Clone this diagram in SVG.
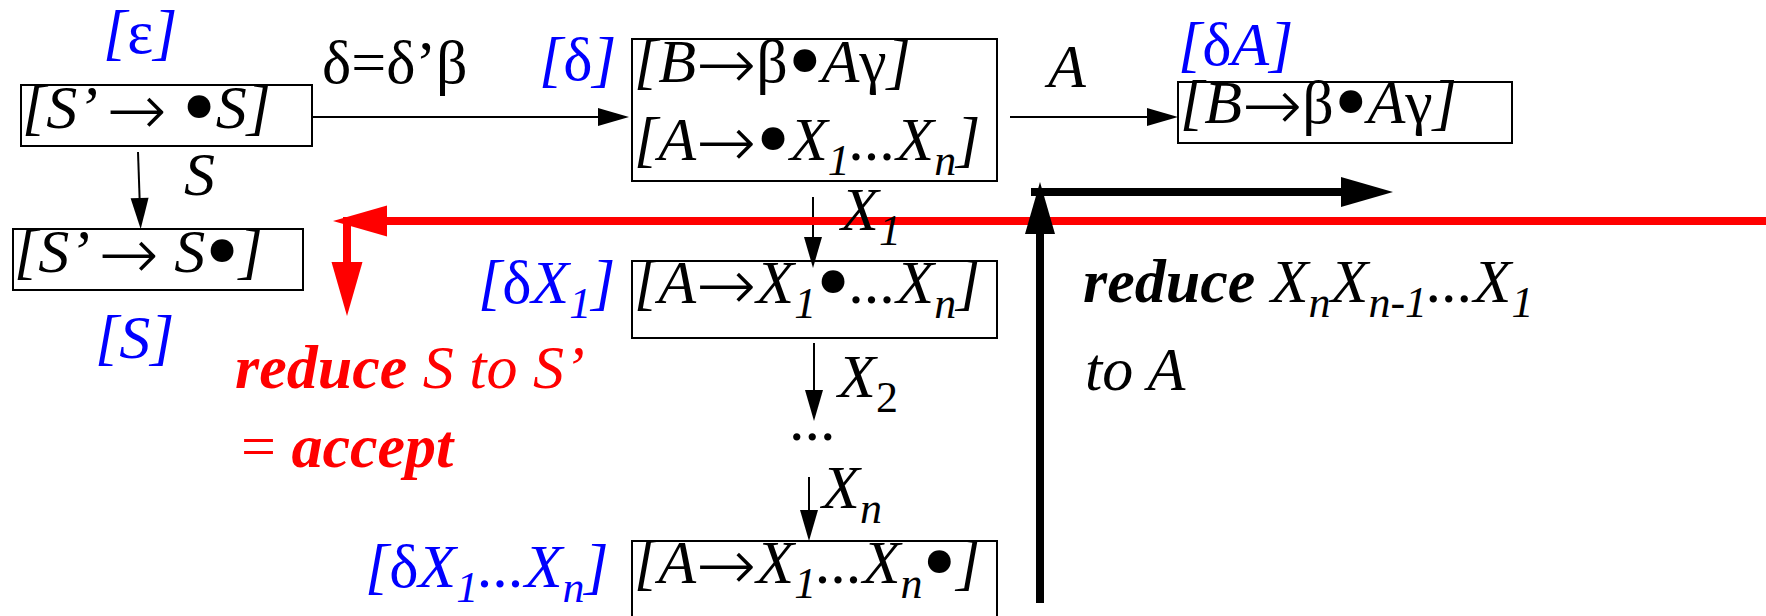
<svg xmlns="http://www.w3.org/2000/svg" width="1766" height="616" viewBox="0 0 1766 616">
<style>
.t{font-family:"Liberation Serif","Times New Roman",serif;font-size:62px;font-style:italic;fill:#000}
.blue{fill:#0000ff}
.red{fill:#ff0000}
.up{font-style:normal}
.bd{font-weight:bold}
.sub{font-size:44px}
.bul{font-size:96px;font-style:normal}
.ar{font-family:"DejaVu Sans",sans-serif;font-size:72px;font-style:normal;font-weight:200}
.box{fill:none;stroke:#000;stroke-width:2}
.thin{fill:none;stroke:#000;stroke-width:2}
.thickr{fill:none;stroke:#ff0000;stroke-width:8}
.thickb{fill:none;stroke:#000;stroke-width:8}
</style>
<defs>
<marker id="ms" markerUnits="userSpaceOnUse" viewBox="0 -10 31 20" markerWidth="31" markerHeight="20" refX="0" refY="0" orient="auto" overflow="visible"><path d="M0,-9 L31,0 L0,9 z" fill="#000"/></marker>
<marker id="mr" markerUnits="userSpaceOnUse" viewBox="0 -16 54 32" markerWidth="54" markerHeight="32" refX="0" refY="0" orient="auto" overflow="visible"><path d="M0,-15.5 L54,0 L0,15.5 z" fill="#ff0000"/></marker>
<marker id="mb" markerUnits="userSpaceOnUse" viewBox="0 -16 52 32" markerWidth="52" markerHeight="32" refX="0" refY="0" orient="auto" overflow="visible"><path d="M0,-15 L52,0 L0,15 z" fill="#000"/></marker>
</defs>
<rect width="1766" height="616" fill="#fff"/>

<g id="connectors">
<path class="thin" d="M312,117 H598" marker-end="url(#ms)"/>
<path class="thin" d="M138,152 L139.6,198" marker-end="url(#ms)"/>
<path class="thin" d="M1010,117 H1147" marker-end="url(#ms)"/>
<path class="thin" d="M813,197 V237" marker-end="url(#ms)"/>
<path class="thin" d="M814,343 V390" marker-end="url(#ms)"/>
<path class="thin" d="M809,477 V510" marker-end="url(#ms)"/>
<path class="thickr" d="M1766,221 H387" marker-end="url(#mr)"/>
<path class="thickr" d="M347,217 V262" marker-end="url(#mr)"/>
<path class="thickb" d="M1040,603 V234" marker-end="url(#mb)"/>
<path class="thickb" d="M1031,192 H1341" marker-end="url(#mb)"/>
</g>

<g id="edge-labels">
<text class="t up" x="322" y="83" font-size="64">δ=δ’β</text>
<text class="t" x="184" y="195">S</text>
<text class="t" x="1048" y="87">A</text>
<text class="t" x="841" y="230">X<tspan class="sub" dy="15">1</tspan></text>
<text class="t" x="838" y="397">X<tspan class="sub up" dy="15">2</tspan></text>
<text class="t up" x="789" y="440">...</text>
<text class="t" x="822" y="508">X<tspan class="sub" dy="15">n</tspan></text>
</g>

<g id="node-start">
<rect class="box" x="21" y="85" width="291" height="61"/>
<text class="t" x="22" y="128">[S’ <tspan class="ar" dy="7">→</tspan> <tspan class="bul" dy="3">•</tspan><tspan dy="-10">S]</tspan></text>
<text class="t blue" x="103" y="53">[<tspan class="up">ε</tspan>]</text>
</g>

<g id="node-accept">
<rect class="box" x="13" y="229" width="290" height="61"/>
<text class="t" x="14" y="272">[S’ <tspan class="ar" dy="7">→</tspan> <tspan dy="-7">S</tspan><tspan class="bul" dy="10">•</tspan><tspan dy="-10">]</tspan></text>
<text class="t blue" x="95" y="358">[S]</text>
</g>

<g id="node-delta">
<rect class="box" x="632" y="39" width="365" height="142"/>
<text class="t" x="634" y="82">[B<tspan class="ar" dy="7">→</tspan><tspan class="up" dy="-7">β</tspan><tspan class="bul" dy="10">•</tspan><tspan dy="-10">A</tspan><tspan class="up">γ</tspan>]</text>
<text class="t" x="634" y="160">[A<tspan class="ar" dy="7">→</tspan><tspan class="bul" dy="3">•</tspan><tspan dy="-10">X</tspan><tspan class="sub" dy="15">1</tspan><tspan dy="-15">...X</tspan><tspan class="sub" dy="15">n</tspan><tspan dy="-15">]</tspan></text>
<text class="t blue" x="539" y="80">[<tspan class="up">δ</tspan>]</text>
</g>

<g id="node-deltaA">
<rect class="box" x="1178" y="82" width="334" height="61"/>
<text class="t" x="1180" y="123">[B<tspan class="ar" dy="7">→</tspan><tspan class="up" dy="-7">β</tspan><tspan class="bul" dy="10">•</tspan><tspan dy="-10">A</tspan><tspan class="up">γ</tspan>]</text>
<text class="t blue" x="1178" y="65">[<tspan class="up">δ</tspan>A]</text>
</g>

<g id="node-deltaX1">
<rect class="box" x="632" y="261" width="365" height="77"/>
<text class="t" x="634" y="303">[A<tspan class="ar" dy="7">→</tspan><tspan dy="-7">X</tspan><tspan class="sub" dy="15">1</tspan><tspan class="bul" dy="-5">•</tspan><tspan dy="-10">...X</tspan><tspan class="sub" dy="15">n</tspan><tspan dy="-15">]</tspan></text>
<text class="t blue" x="478" y="303">[<tspan class="up">δ</tspan>X<tspan class="sub" dy="15">1</tspan><tspan dy="-15">]</tspan></text>
</g>

<g id="node-deltaXn">
<rect class="box" x="632" y="541" width="365" height="100"/>
<text class="t" x="634" y="583">[A<tspan class="ar" dy="7">→</tspan><tspan dy="-7">X</tspan><tspan class="sub" dy="15">1</tspan><tspan dy="-15">...X</tspan><tspan class="sub" dy="15">n</tspan><tspan class="bul" dy="-5">•</tspan><tspan dy="-10">]</tspan></text>
<text class="t blue" x="365" y="587">[<tspan class="up">δ</tspan>X<tspan class="sub" dy="15">1</tspan><tspan dy="-15">...X</tspan><tspan class="sub" dy="15">n</tspan><tspan dy="-15">]</tspan></text>
</g>

<g id="notes">
<text class="t red" x="235" y="388"><tspan class="bd">reduce</tspan> S to S’</text>
<text class="t red" x="241" y="467"><tspan class="up">=</tspan> <tspan class="bd">accept</tspan></text>
<text class="t" x="1083" y="302"><tspan class="bd">reduce</tspan> X<tspan class="sub" dy="15">n</tspan><tspan dy="-15">X</tspan><tspan class="sub" dy="15">n-1</tspan><tspan dy="-15">...X</tspan><tspan class="sub" dy="15">1</tspan></text>
<text class="t" x="1085" y="390">to A</text>
</g>
</svg>
